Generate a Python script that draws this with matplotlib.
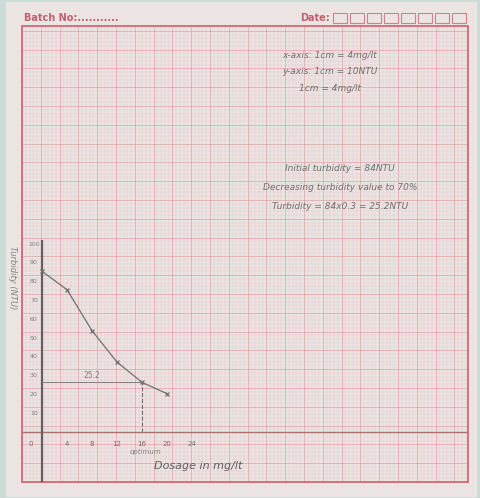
import matplotlib
matplotlib.use("Agg")
import matplotlib.pyplot as plt
import numpy as np

dosage = [0, 4, 8, 12, 16, 20]
turbidity = [85.5, 75.7, 53.9, 37.2, 26.4, 20.4]
y_ticks = [10, 20, 30, 40, 50, 60, 70, 80, 90, 100]
x_ticks = [0, 4, 8, 12, 16, 20, 24]

W, H = 481, 498
fig = plt.figure(figsize=(W/100, H/100), dpi=100)
fig.patch.set_facecolor('#c9dcd6')

bg = fig.add_axes([0, 0, 1, 1])
bg.set_xlim(0, W); bg.set_ylim(H, 0); bg.axis('off')
bg.add_patch(plt.Rectangle((6, 2), 470, 494, color='#ece3e3', zorder=0))
gx0, gx1, gy0, gy1 = 22, 468, 26, 482
for i, x in enumerate(np.arange(gx0, gx1 + 0.1, 3.76)):
    bg.plot([x, x], [gy0, gy1], color='#d98a8a', lw=0.6 if i % 5 == 0 else 0.25, alpha=0.6 if i % 5 == 0 else 0.35, zorder=1)
for i, y in enumerate(np.arange(gy1, gy0 - 0.1, -3.76)):
    bg.plot([gx0, gx1], [y, y], color='#d98a8a', lw=0.6 if i % 5 == 0 else 0.25, alpha=0.6 if i % 5 == 0 else 0.35, zorder=1)
bg.add_patch(plt.Rectangle((gx0, gy0), gx1-gx0, gy1-gy0, fill=False, ec='#d06070', lw=1.2, zorder=2))
bg.text(24, 18, 'Batch No:...........', fontsize=7, color='#c06070', fontweight='bold', va='center')
bg.text(300, 18, 'Date:', fontsize=7, color='#c06070', fontweight='bold', va='center')
for k in range(8):
    bg.add_patch(plt.Rectangle((333 + k*17, 13), 14, 10, fill=False, ec='#d08090', lw=0.8, zorder=2))

hand = dict(color='#707070', fontsize=6.5, ha='center', va='center', style='italic')
bg.text(330, 55, 'x-axis: 1cm = 4mg/lt', **hand)
bg.text(330, 71, 'y-axis: 1cm = 10NTU', **hand)
bg.text(330, 88, '1cm = 4mg/lt', **hand)
bg.text(340, 168, 'Initial turbidity = 84NTU', **hand)
bg.text(340, 187, 'Decreasing turbidity value to 70%', **hand)
bg.text(340, 206, 'Turbidity = 84x0.3 = 25.2NTU', **hand)

L, R, T, B = 22, 468, 240, 482
ax = fig.add_axes([L/W, 1 - B/H, (R-L)/W, (B-T)/H])
ax.patch.set_alpha(0)
ax.set_xlim((L-42)/6.25, (R-42)/6.25)
ax.set_ylim((432-B)/1.88, (432-T)/1.88)
ax.axis('off')
ax.axhline(0, color='#b07070', lw=1.0)
ax.plot([0, 0], [(432-B)/1.88, 104], color='#606060', lw=1.6)
ax.plot(dosage, turbidity, color='#707070', lw=0.9, marker='x', ms=3.5, mew=0.9)
ax.plot([0, 16], [26.4, 26.4], color='#808080', lw=0.7)
ax.plot([16, 16], [0, 26.4], color='#707070', lw=0.8, ls='--')
ax.text(8, 28.5, '25.2', color='#808080', fontsize=5.5, ha='center')
for v in y_ticks:
    ax.text(-1.3, v, str(v), color='#808080', fontsize=4.5, ha='center', va='center')
for v in x_ticks:
    ax.text(v if v else -1.8, -6.5, str(v), color='#707070', fontsize=5, ha='center', va='center')
ax.text(16.5, -11.5, 'optimum', color='#808080', fontsize=5, ha='center', style='italic')
ax.text(25, -18, 'Dosage in mg/lt', color='#606060', fontsize=8, ha='center', va='center', style='italic')
ax.text(-4.8, 82, 'Turbidity (NTU)', color='#808080', fontsize=6, rotation=-90, ha='center', va='center', style='italic')

fig.savefig('out.png', dpi=100, facecolor=fig.get_facecolor())
